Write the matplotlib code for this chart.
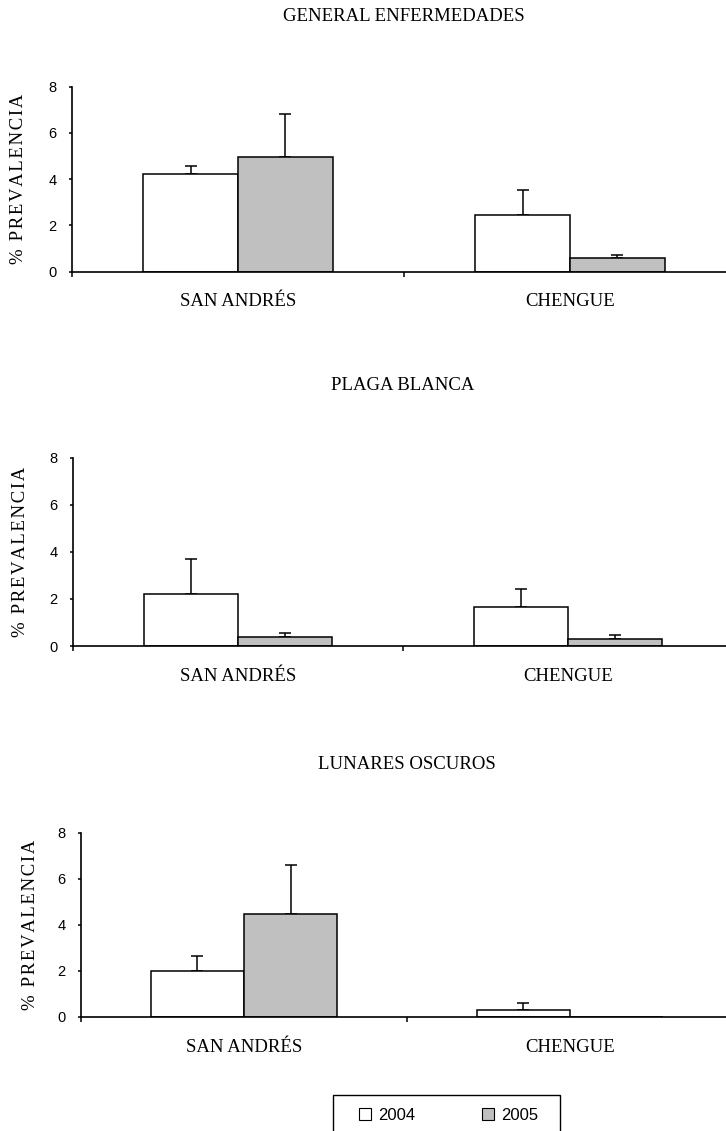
import numpy as np
import matplotlib
matplotlib.use('Agg')
import matplotlib.pyplot as plt
from matplotlib.patches import Patch, Rectangle

# datos
categorias = ['SAN ANDRÉS', 'CHENGUE']
anios = ['2004', '2005']
titulos = ['GENERAL ENFERMEDADES', 'PLAGA BLANCA', 'LUNARES OSCUROS']

gen_2004 = [4.22, 2.45]
gen_2004_err = [0.35, 1.08]
gen_2005 = [4.94, 0.58]
gen_2005_err = [1.88, 0.14]

plaga_2004 = [2.2, 1.66]
plaga_2004_err = [1.48, 0.78]
plaga_2005 = [0.37, 0.30]
plaga_2005_err = [0.17, 0.17]

lun_2004 = [2.0, 0.29]
lun_2004_err = [0.64, 0.32]
lun_2005 = [4.49, 0.0]
lun_2005_err = [2.1, 0.0]

W, H = 726, 1131
fig = plt.figure(figsize=(W / 100, H / 100), dpi=100)

serif = ['Liberation Serif', 'DejaVu Serif']
sans = 'Liberation Sans'

# (izq, der, arriba, abajo) en pixeles, pad del titulo
cajas = [(72, 736, 86.7, 271.7, 47), (73, 733, 457.7, 646, 48.5), (81, 733, 832.7, 1017, 45.6)]
series = [
    (gen_2004, gen_2004_err, gen_2005, gen_2005_err),
    (plaga_2004, plaga_2004_err, plaga_2005, plaga_2005_err),
    (lun_2004, lun_2004_err, lun_2005, lun_2005_err),
]
ylab_x = [27, 29, 39]
# etiqueta con letras algo espaciadas, como en el original
ylabel = '\u200a'.join('% PREVALENCIA')

ancho = 0.286
x = np.arange(len(categorias))

for i in range(3):
    l, r, t, b, tpad = cajas[i]
    ax = fig.add_axes([l / W, 1 - b / H, (r - l) / W, (b - t) / H])
    v1, e1, v2, e2 = series[i]
    for vals, errs, off, col in [(v1, e1, -ancho / 2, 'white'), (v2, e2, ancho / 2, '#c0c0c0')]:
        vals = np.array(vals)
        errs = np.array(errs)
        ax.bar(x + off, vals, ancho, color=col, edgecolor='black', linewidth=1.1, zorder=2)
        m = errs > 0
        ax.errorbar(x[m] + off, vals[m], yerr=[np.zeros(m.sum()), errs[m]], fmt='none',
                    ecolor='black', elinewidth=1.1, capsize=4.3, capthick=1.1, zorder=1)
    ax.set_xlim(-0.5, 1.5)
    ax.set_ylim(0, 8)
    ax.set_yticks([0, 2, 4, 6, 8])
    ax.set_xticks([-0.5, 0.5, 1.5])
    ax.set_xticklabels([])
    ax.set_xticks(x, minor=True)
    ax.set_xticklabels(categorias, minor=True, fontfamily=serif, fontsize=13.5)
    ax.tick_params(axis='x', which='major', direction='out', length=3.6, width=1.1)
    ax.tick_params(axis='x', which='minor', length=0, pad=15.5)
    ax.tick_params(axis='y', direction='out', length=2.2, width=1.1, pad=9, labelsize=10.5)
    for lab in ax.get_yticklabels():
        lab.set_fontfamily(sans)
    ax.spines['top'].set_visible(False)
    ax.spines['right'].set_visible(False)
    ax.spines['left'].set_linewidth(1.2)
    ax.spines['bottom'].set_linewidth(1.2)
    ax.set_title(titulos[i], fontfamily=serif, fontsize=13.5, pad=tpad)
    ax.set_ylabel(ylabel, fontfamily=serif, fontsize=13.5)
    ax.yaxis.set_label_coords((ylab_x[i] - l) / (r - l), 0.5)

# leyenda
manijas = [Patch(facecolor='white', edgecolor='black', linewidth=0.8),
           Patch(facecolor='#c0c0c0', edgecolor='black', linewidth=0.8)]
fig.legend(manijas, anios, ncol=2, frameon=False, loc='center',
           bbox_to_anchor=(448.5 / W, 1 - 1115 / H),
           prop={'family': 'Liberation Sans', 'size': 12},
           handlelength=0.7, handleheight=0.7, handletextpad=0.45, columnspacing=4.0)
fig.patches.append(Rectangle((333 / W, 1 - 1140 / H), 227 / W, 45 / H, transform=fig.transFigure,
                             facecolor='none', edgecolor='black', linewidth=1.0))

fig.savefig('out.png', dpi=100)
